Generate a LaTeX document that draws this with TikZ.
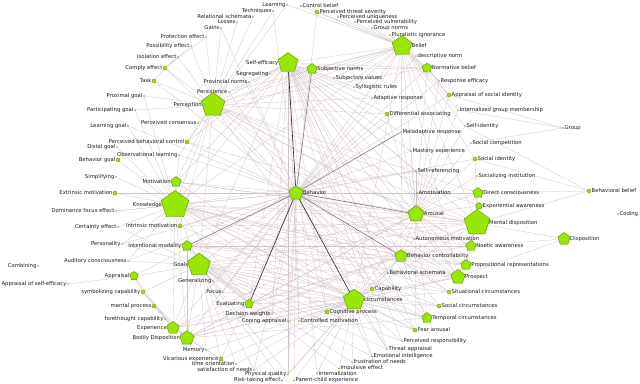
\documentclass[tikz,border=0pt]{standalone}
\usepackage{fontspec}
\setmainfont{DejaVu Sans}
\usetikzlibrary{shapes.geometric}
\pgfdeclarelayer{bg}\pgfsetlayers{bg,main}
\definecolor{lime}{RGB}{153,230,0}
\definecolor{limeedge}{RGB}{95,140,0}
\definecolor{dotc}{RGB}{115,170,0}
\definecolor{edgec}{RGB}{210,195,200}
\definecolor{darkedge}{RGB}{50,40,45}
\definecolor{midedge}{RGB}{110,92,100}
\tikzset{
  lbl/.style={font=\fontsize{5.3}{5.5}\selectfont, text=black!90, inner sep=0.3pt},
  dotn/.style={circle, fill=dotc, inner sep=0pt, minimum size=1.8pt, label distance=0.8pt},
  cdotn/.style={circle, fill=lime, draw=limeedge, line width=0.3pt, inner sep=0pt, minimum size=4pt, label distance=0.8pt},
  pent/.style={regular polygon, regular polygon sides=5, fill=lime, draw=limeedge, line width=0.4pt, inner sep=0pt, minimum size=#1, label distance=1pt},
  edge/.style={draw=edgec, line width=0.3pt},
  darkline/.style={draw=darkedge, line width=0.65pt},
  midline/.style={draw=midedge, line width=0.45pt}
}
\newcommand\nd[6]{\node[#4,label={[lbl]#5:{#6}}] (#1) at (#2,#3) {};}
\begin{document}
\begin{tikzpicture}[x=1pt,y=-1pt]
\useasboundingbox (0,0) rectangle (640,383);
% top
\nd{relsch}{253}{17}{dotn}{left}{Relational schemata}
\nd{losses}{237}{22}{dotn}{left}{Losses}
\nd{gains}{221}{28}{dotn}{left}{Gains}
\nd{techn}{273}{11}{dotn}{left}{Techniques}
\nd{learning}{287}{5}{dotn}{left}{Learning}
\nd{ctrlb}{301}{6}{dotn}{right}{Control belief}
\nd{pts}{317}{12}{cdotn}{right}{Perceived threat severity}
\nd{puniq}{338}{17}{dotn}{right}{Perceived uniqueness}
\nd{pvul}{355}{22}{dotn}{right}{Perceived vulnerability}
\nd{gnorms}{372}{28}{dotn}{right}{Group norms}
\nd{plur}{390}{35}{dotn}{right}{Pluralistic ignorance}
\nd{belief}{402}{46}{pent=21pt}{right}{Belief}
\nd{descn}{416}{56}{dotn}{right}{descriptive norm}
\nd{normb}{427}{68}{pent=10pt}{right}{Normative belief}
\nd{respeff}{439}{81}{dotn}{right}{Response efficacy}
\nd{apsoc}{449}{95}{cdotn}{right}{Appraisal of social identity}
\nd{intgm}{458}{110}{dotn}{right}{Internalized group membership}
\nd{group}{563}{128}{dotn}{right}{Group}
\nd{selfid}{465}{126}{dotn}{right}{Self-identity}
\nd{soccomp}{471}{143}{dotn}{right}{Social competition}
\nd{socid}{475}{159}{cdotn}{right}{Social identity}
\nd{socinst}{477}{176}{dotn}{right}{Socializing institution}
\nd{behb}{589}{191}{cdotn}{right}{Behavioral belief}
\nd{coding}{618}{214}{dotn}{right}{Coding}
\nd{dircon}{478}{193}{pent=11pt}{right}{Direct consciousness}
\nd{expaw}{479}{206}{pent=7pt}{right}{Experiential awareness}
\nd{mentd}{477}{223}{pent=27pt}{right}{Mental disposition}
\nd{disp}{564}{239}{pent=13pt}{right}{Disposition}
\nd{arousal}{416}{214}{pent=17pt}{right}{Arousal}
\nd{amot}{417}{193}{dotn}{right}{Amotivation}
\nd{selfref}{416}{171}{dotn}{right}{Self-referencing}
\nd{mastery}{411}{151}{dotn}{right}{Mastery experience}
\nd{malad}{401}{132}{dotn}{right}{Maladaptive response}
\nd{diffas}{387}{114}{cdotn}{right}{Differential associating}
\nd{adapt}{372}{98}{dotn}{right}{Adaptive response}
\nd{syll}{354}{87}{dotn}{right}{Syllogistic rules}
\nd{subjv}{334}{78}{dotn}{right}{Subjective values}
\nd{subjn}{312}{69}{pent=11pt}{right}{Subjective norms}
\nd{selfeff}{288}{63}{pent=21pt}{left}{Self-efficacy}
\nd{segreg}{270}{74}{dotn}{left}{Segregating}
\nd{provn}{249}{82}{dotn}{left}{Provincial norms}
\nd{persist}{229}{92}{dotn}{left}{Persistence}
\nd{percep}{213}{105}{pent=25pt}{left}{Perception}
\nd{pcons}{198}{123}{dotn}{left}{Perceived consensus}
\nd{pbc}{187}{142}{cdotn}{left}{Perceived behavioral control}
\nd{distal}{117}{147}{dotn}{left}{Distal goal}
\nd{obsl}{179}{155}{dotn}{left}{Observational learning}
\nd{behgoal}{118}{160}{cdotn}{left}{Behavior goal}
\nd{simpl}{116}{177}{dotn}{left}{Simplifying}
\nd{motiv}{176}{182}{pent=11pt}{left}{Motivation}
\nd{extr}{115}{193}{cdotn}{left}{Extrinsic motivation}
\nd{knowl}{175}{205}{pent=29pt}{left}{Knowledge}
\nd{domf}{116}{211}{dotn}{left}{Dominance focus effect}
\nd{cert}{118}{227}{dotn}{left}{Certainty effect}
\nd{intr}{180}{226}{cdotn}{left}{Intrinsic motivation}
\nd{person}{122}{244}{dotn}{left}{Personality}
\nd{intmod}{187}{246}{pent=11pt}{left}{Intentional modality}
\nd{combin}{38}{266}{dotn}{left}{Combining}
\nd{audc}{128}{261}{dotn}{left}{Auditory consciousness}
\nd{goals}{199}{265}{pent=24pt}{left}{Goals}
\nd{apprsl}{134}{276}{pent=9pt}{left}{Appraisal}
\nd{apse}{68}{284}{dotn}{left}{Appraisal of self-efficacy}
\nd{symb}{143}{292}{cdotn}{left}{symbolizing capability}
\nd{mproc}{154}{306}{cdotn}{left}{mental process}
\nd{general}{213}{281}{dotn}{left}{Generalizing}
\nd{forethought}{165}{319}{dotn}{left}{forethought capability}
\nd{exper}{173}{328}{pent=13pt}{left}{Experience}
\nd{bodily}{187}{338}{pent=15pt}{left}{Bodily Disposition}
\nd{memory}{206}{350}{dotn}{left}{Memory}
\nd{vicar}{221}{359}{cdotn}{left}{Vicarious experience}
\nd{timeo}{236}{364}{dotn}{left}{time orientation}
\nd{satis}{254}{370}{dotn}{left}{satisfaction of needs}
\nd{physq}{288}{374.5}{dotn}{left}{Physical quality}
\nd{risk}{282}{380.5}{dotn}{left}{Risk-taking effect}
\nd{parent}{294}{380.5}{dotn}{right}{Parent-child experience}
\nd{internz}{317}{373.5}{dotn}{right}{Internalization}
\nd{impuls}{339}{368.5}{dotn}{right}{Impulsive effect}
\nd{frust}{352}{362}{dotn}{right}{frustration of needs}
\nd{emoti}{372}{356.5}{dotn}{right}{Emotional intelligence}
\nd{threat}{387}{349}{dotn}{right}{Threat appraisal}
\nd{presp}{402}{341}{dotn}{right}{Perceived responsibility}
\nd{fear}{415}{330}{cdotn}{right}{Fear arousal}
\nd{tempc}{427}{318}{pent=11pt}{right}{Temporal circumstances}
\nd{socc}{439}{306}{cdotn}{right}{Social circumstances}
\nd{sitc}{449}{292}{cdotn}{right}{Situational circumstances}
\nd{prospect}{458}{277}{pent=15pt}{right}{Prospect}
\nd{propr}{466}{265}{pent=11pt}{right}{Propositional representations}
\nd{noetic}{471}{246}{pent=11pt}{right}{Noetic awareness}
\nd{autom}{414}{239}{dotn}{right}{Autonomous motivation}
\nd{behctrl}{401}{256}{pent=13pt}{right}{Behavior controllability}
\nd{behsch}{388}{273}{dotn}{right}{Behavioral schemata}
\nd{capab}{372}{289}{cdotn}{right}{Capability}
\nd{circ}{354}{300}{pent=22pt}{right}{circumstances}
\nd{cogp}{327}{312}{cdotn}{right}{Cognitive process}
\nd{ctrlm}{299}{321}{dotn}{right}{Controlled motivation}
\nd{coping}{288}{321}{dotn}{left}{Coping appraisal}
\nd{decw}{272}{314}{dotn}{left}{Decision weights}
\nd{eval}{249}{304}{pent=9pt}{left}{Evaluating}
\nd{focus}{223}{292}{dotn}{left}{Focus}
\nd{behavior}{296}{193}{pent=15pt}{right}{Behavior}
\nd{protect}{206}{37}{dotn}{left}{Protection effect}
\nd{possib}{191}{46}{dotn}{left}{Possibility effect}
\nd{isol}{178}{57}{dotn}{left}{Isolation effect}
\nd{comply}{165}{68}{cdotn}{left}{Comply effect}
\nd{task}{154}{81}{cdotn}{left}{Task}
\nd{proxg}{144}{96}{dotn}{left}{Proximal goal}
\nd{partg}{135}{110}{dotn}{left}{Participating goal}
\nd{learng}{128}{126}{dotn}{left}{Learning goal}

\begin{pgfonlayer}{bg}
\foreach \h/\ls in {behavior/{percep,knowl,motiv,goals,mentd,belief,dircon,prospect,tempc,bodily,exper,pbc,intr,comply,task,normb,socid,amot,autom,cogp,ctrlm,decw,coping,focus,general,apprsl,physq,parent,emoti,threat,fear,noetic,propr,sitc,diffas,adapt,pts,techn,gains,persist,provn,extr,obsl,domf,person,audc,vicar,satis,capab,behsch,selfref,mastery,respeff,apsoc,descn,learng},
 selfeff/{percep,knowl,motiv,goals,arousal,mentd,circ,behctrl,prospect,belief,eval,ctrlm,cogp,decw,coping,pbc,persist,provn,segreg,subjv,syll,adapt,diffas,malad,mastery,selfref,amot,autom,behsch,capab,tempc,fear,presp,threat,physq,internz,normb},
 percep/{knowl,motiv,goals,arousal,mentd,circ,belief,protect,possib,isol,comply,task,relsch,gains,losses,techn,learning,pcons,pbc,obsl,intr,dircon,expaw,prospect,behctrl,noetic,subjn,normb,adapt,diffas,proxg,partg},
 knowl/{goals,arousal,mentd,circ,behctrl,prospect,bodily,exper,extr,simpl,domf,cert,intr,person,audc,behgoal,distal,proxg,partg,learng,obsl,motiv,eval,cogp,fear,tempc,socc,sitc,propr,noetic,belief,selfref},
 goals/{arousal,mentd,circ,behctrl,prospect,bodily,exper,apprsl,symb,general,focus,eval,decw,intmod,person,audc,cert,vicar,memory,timeo,satis,physq,risk,tempc,socc,sitc,fear,presp,threat,emoti,impuls,frust},
 arousal/{mentd,dircon,expaw,noetic,propr,prospect,circ,behctrl,autom,amot,selfref,mastery,malad,diffas,socid,socinst,soccomp,selfid,belief,normb,intgm,apsoc,respeff,eval,bodily,exper,tempc,fear,intmod,motiv},
 mentd/{disp,dircon,expaw,noetic,propr,prospect,behb,circ,behctrl,belief,socid,intr,motiv,bodily,intmod,pbc},
 belief/{normb,descn,plur,gnorms,pvul,puniq,pts,ctrlb,subjn,subjv,syll,adapt,respeff,apsoc,intgm,circ,behctrl,prospect,malad,pcons,persist,learning},
 circ/{behctrl,prospect,capab,behsch,cogp,ctrlm,coping,decw,eval,tempc,socc,sitc,fear,presp,threat,emoti,frust,impuls,internz,parent,physq,risk,satis,timeo,vicar,memory,bodily,exper,general,focus,intr,motiv},
 behctrl/{prospect,propr,noetic,autom,behsch,capab,sitc,socc,tempc,eval,bodily,exper,intmod,knowl},
 bodily/{exper,memory,vicar,mproc,forethought,symb,eval,prospect,tempc,intmod},
 exper/{mproc,forethought,symb,apprsl,prospect},
 intmod/{prospect,propr,tempc,noetic,eval}}{%
 \foreach \t in \ls {\draw[edge] (\h) -- (\t);}%
}
\foreach \a/\b in {apse/apprsl,apprsl/symb,symb/mproc,comply/protect,comply/possib,comply/isol,comply/task,group/intgm,group/apsoc,group/soccomp,behb/selfid,behb/dircon,behb/socid,disp/prospect,subjn/normb,normb/apsoc,normb/respeff,disp/noetic,socid/belief,selfid/belief}
 {\draw[edge] (\a) -- (\b);}
\draw[darkline] (behavior) -- (selfeff);
\draw[darkline] (behavior) -- (circ);
\draw[darkline] (behavior) -- (eval);
\draw[midline] (behavior) -- (arousal);
\draw[midline] (behavior) -- (behctrl);
\draw[midline] (behavior) -- (intmod);
\draw[midline] (behavior) -- (malad);
\draw[midline] (behavior) -- (subjn);
\end{pgfonlayer}
\end{tikzpicture}
\end{document}
